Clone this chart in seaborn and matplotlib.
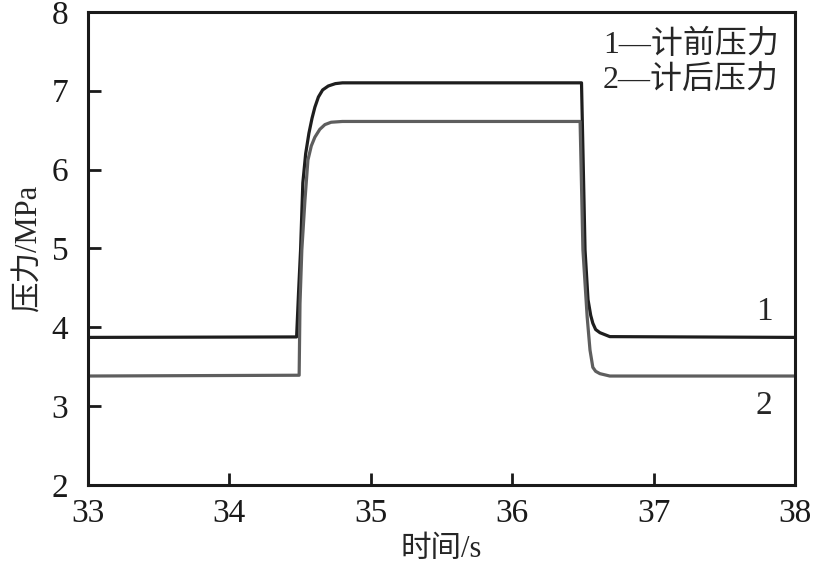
import pandas as pd
import matplotlib
matplotlib.use("Agg")
import matplotlib.pyplot as plt
import seaborn as sns

# 曲线1：计前压力 (时间/s, 压力/MPa)
t1 = [33.0, 34.476, 34.49, 34.504, 34.52, 34.54, 34.563, 34.585, 34.605, 34.63, 34.66, 34.70, 34.75, 34.80, 35.0,
      36.49, 36.50, 36.515, 36.536, 36.555, 36.57, 36.59, 36.62, 36.69, 38.0]
p1 = [3.87, 3.876, 4.45, 4.98, 5.83, 6.20, 6.46, 6.65, 6.79, 6.92, 7.01, 7.06, 7.09, 7.10, 7.10,
      7.10, 6.25, 4.98, 4.35, 4.15, 4.05, 3.97, 3.93, 3.88, 3.87]

# 曲线2：计后压力
t2 = [33.0, 34.494, 34.50, 34.513, 34.535, 34.556, 34.58, 34.605, 34.64, 34.676, 34.72, 34.80, 35.0,
      36.48, 36.50, 36.53, 36.55, 36.57, 36.59, 36.62, 36.69, 38.0]
p2 = [3.38, 3.39, 4.30, 4.98, 5.61, 6.12, 6.30, 6.41, 6.51, 6.57, 6.60, 6.61, 6.61,
      6.61, 4.98, 4.13, 3.71, 3.49, 3.44, 3.41, 3.38, 3.38]

series_names = ["1", "2"]
legend_lines = ["1—计前压力", "2—计后压力"]
x_ticks = [33, 34, 35, 36, 37, 38]
y_ticks = [2, 3, 4, 5, 6, 7, 8]

df = pd.concat([
    pd.DataFrame({"time": t1, "pressure": p1, "curve": series_names[0]}),
    pd.DataFrame({"time": t2, "pressure": p2, "curve": series_names[1]}),
])

sns.set_style("ticks")
fonts = ["Liberation Serif", "Noto Sans CJK SC", "DejaVu Sans"]
plt.rcParams["font.family"] = fonts

fig = plt.figure(figsize=(8.13, 5.67), dpi=100)
ax = fig.add_axes([0.108, 0.145, 0.870, 0.834])

sns.lineplot(data=df, x="time", y="pressure", hue="curve", sort=False,
             palette={"1": "#1e1e1e", "2": "#5e5e5e"}, linewidth=2.3,
             legend=False, ax=ax, estimator=None)

ax.set_xlim(33, 38)
ax.set_ylim(2, 8)
ax.set_xticks(x_ticks)
ax.set_yticks(y_ticks)
ax.tick_params(direction="in", length=9, width=2, labelsize=24, pad=10,
               top=False, right=False, colors="#1a1a1a")
ax.tick_params(axis="y", pad=14)
for s in ax.spines.values():
    s.set_linewidth(2.2)
    s.set_color("#1a1a1a")

ax.set_xlabel("时间/s", fontsize=22, labelpad=4)
ax.set_ylabel("压力/MPa", fontsize=22, labelpad=6)

ax.text(0.977, 0.93, legend_lines[0], transform=ax.transAxes, ha="right", va="center", fontsize=23)
ax.text(0.977, 0.855, legend_lines[1], transform=ax.transAxes, ha="right", va="center", fontsize=23)
ax.text(37.78, 4.2, series_names[0], ha="center", va="center", fontsize=24)
ax.text(37.78, 3.0, series_names[1], ha="center", va="center", fontsize=24)

fig.savefig("out.png", dpi=100)
